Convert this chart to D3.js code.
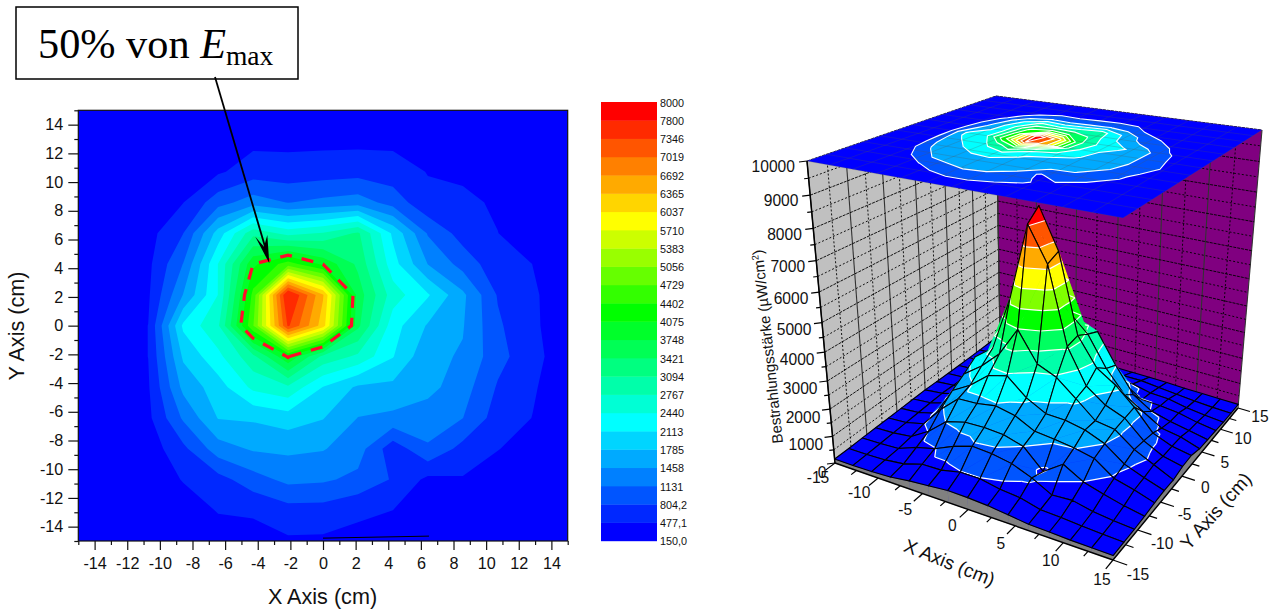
<!DOCTYPE html>
<html><head><meta charset="utf-8">
<script src="https://cdn.jsdelivr.net/npm/d3@7"></script>
<style>html,body{margin:0;padding:0;background:#fff}svg{display:block}text{font-family:"Liberation Sans",Arial,sans-serif;fill:#111}</style>
</head><body><svg id="c" width="1286" height="609"></svg>
<script>
// Irradiance readings (µW/cm²): rows run from y=15 down to y=-15, columns from x=-15 to x=15
const irradiance = [
[150,150,150,160,170,190,200,200,200,200,190,170,160,150,150],
[150,160,170,200,280,400,400,400,400,410,340,270,210,170,150],
[150,170,180,250,430,640,610,650,680,620,465,440,300,220,160],
[150,170,250,470,1000,1300,1120,1220,1300,1000,555,520,450,300,200],
[160,200,360,800,1930,3000,2650,2800,3150,2050,1100,665,480,350,220],
[170,220,400,1140,2450,4000,4560,4000,3350,2250,1450,1007,593,475,250],
[180,250,430,1470,2450,4500,7800,6400,3600,2600,2150,1530,777,500,380],
[200,280,480,2180,2715,4700,7400,6200,3500,2250,1750,1480,860,510,360],
[190,260,480,1840,2350,3000,4050,3000,2700,2130,1535,1428,916,587,263],
[180,240,440,1550,1960,2520,2700,2100,1730,1700,1560,1280,770,510,280],
[170,220,400,1180,1800,1830,1950,1800,1450,1380,1290,1135,648,470,250],
[170,200,290,725,1308,1500,1527,1480,1280,600,1090,693,490,320,200],
[160,180,220,500,680,993,1220,1180,1050,773,400,450,300,220,170],
[150,160,190,280,500,520,680,680,540,477,300,270,220,180,160],
[150,150,160,200,300,360,430,420,380,300,220,200,170,160,150]];
const legendLevels = [150,477.1,804.2,1131,1458,1785,2113,2440,2767,3094,3421,3748,4075,4402,4729,5056,5383,5710,6037,6365,6692,7019,7346,7800,8000];
const legendLabels = ["150,0","477,1","804,2","1131","1458","1785","2113","2440","2767","3094","3421","3748","4075","4402","4729","5056","5383","5710","6037","6365","6692","7019","7346","7800","8000"];
const legendColors = ["#0000ff","#0028ff","#0055ff","#0080ff","#00aaff","#00d5ff","#00ffff","#00ffd5","#00ffaa","#00ff80","#00ff55","#00ff2a","#00ff00","#33ff00","#66ff00","#99ff00","#ccff00","#ffff00","#ffd500","#ffaa00","#ff8000","#ff5500","#ff2a00","#ff0000"];
const surfaceLevels = [150,700,1280,2020,2767,3421,4075,4729,5383,6037,6692,7346];
const surfaceColors = ["#0000ff","#0055ff","#00aaff","#00ffff","#00ffaa","#00ff60","#00ff00","#80ff00","#ffff00","#ffaa00","#ff5500","#ff0000"];
const halfMaxLevel = 4000;
const flatTicks = [-14,-12,-10,-8,-6,-4,-2,0,2,4,6,8,10,12,14];
const flatMinor = [-15,-13,-11,-9,-7,-5,-3,-1,1,3,5,7,9,11,13,15];
const cubeTicks = [-15,-10,-5,0,5,10,15];
const cubeMinor = [-12.5,-7.5,-2.5,2.5,7.5,12.5];
const heightTicks = [0,1000,2000,3000,4000,5000,6000,7000,8000,9000,10000];
const heightMinor = [500,1500,2500,3500,4500,5500,6500,7500,8500,9500];
const wallLines = [-15,-12.5,-10,-7.5,-5,-2.5,0,2.5,5,7.5,10,12.5,15];
const strayLineX = [0,6.5], strayLineY = [-14.8,-14.66];

const svg = d3.select("#c");
const flat = irradiance.flat();
const nodeX = d3.scaleLinear([0,14],[-15,15]);
const nodeY = d3.scaleLinear([0,14],[15,-15]);
const contourGen = d3.contours().size([15,15]).smooth(true);

/* ---------- left: filled contour map ---------- */
const x = d3.scaleLinear([-15,15],[78.3,567.7]);
const y = d3.scaleLinear([-15,15],[541,110.3]);
const ringLine = d3.line().x(p=>x(nodeX(p[0]-.5))).y(p=>y(nodeY(p[1]-.5)));
function mapPath(geom,line){return geom.coordinates.map(poly=>poly.map(r=>line(r)+"Z").join("")).join("");}
const left = svg.append("g");
left.append("rect").attr("x",x(-15)).attr("y",y(15)).attr("width",x(15)-x(-15)).attr("height",y(-15)-y(15)).attr("fill",legendColors[0]);
legendLevels.slice(1,23).forEach((lv,i)=>{
  left.append("path").attr("d",mapPath(contourGen.contour(flat,lv),ringLine)).attr("fill",legendColors[i+1]).attr("fill-rule","evenodd");
});
left.append("path").attr("d",d3.line()(strayLineX.map((v,i)=>[x(v),y(strayLineY[i])]))).attr("stroke","#000").attr("stroke-width",1).attr("fill","none");
left.append("path").attr("d",mapPath(contourGen.contour(flat,halfMaxLevel),ringLine)).attr("fill","none").attr("stroke","#ff0d2a").attr("stroke-width",3.2).attr("stroke-dasharray","12 10");
left.append("rect").attr("x",x(-15)).attr("y",y(15)).attr("width",x(15)-x(-15)).attr("height",y(-15)-y(15)).attr("fill","none").attr("stroke","#111").attr("stroke-width",1.2);
function styleAxis(g){g.select(".domain").remove();g.selectAll("line").attr("stroke","#111").attr("stroke-width",1.2);g.selectAll("text").attr("font-size",16.2).attr("fill","#111").attr("font-family","Liberation Sans");}
const plain=d=>String(d);
left.append("g").attr("transform",`translate(0,${y(-15)})`).call(d3.axisBottom(x).tickValues(flatTicks).tickSize(9).tickPadding(7).tickFormat(plain)).call(styleAxis);
left.append("g").attr("transform",`translate(0,${y(-15)})`).call(d3.axisBottom(x).tickValues(flatMinor).tickSize(4).tickFormat("")).call(styleAxis);
left.append("g").attr("transform",`translate(${x(-15)},0)`).call(d3.axisLeft(y).tickValues(flatTicks).tickSize(10).tickPadding(5).tickFormat(plain)).call(styleAxis);
left.append("g").attr("transform",`translate(${x(-15)},0)`).call(d3.axisLeft(y).tickValues(flatMinor).tickSize(4).tickFormat("")).call(styleAxis);
left.append("text").attr("x",322.5).attr("y",604).attr("text-anchor","middle").attr("font-size",21.6).text("X Axis (cm)");
left.append("text").attr("transform","translate(24,326) rotate(-90)").attr("text-anchor","middle").attr("font-size",21.6).text("Y Axis (cm)");

/* annotation */
const ann = svg.append("g");
ann.append("rect").attr("x",16).attr("y",7).attr("width",282).attr("height",72).attr("fill","#fff").attr("stroke","#000").attr("stroke-width",1.5);
const t = ann.append("text").attr("x",38).attr("y",58).attr("font-size",42.3).style("font-family","'Liberation Serif',serif").style("fill","#000");
t.append("tspan").text("50% von ");
t.append("tspan").attr("font-style","italic").text("E");
t.append("tspan").attr("font-size",27.5).attr("dy",7).text("max");
ann.append("line").attr("x1",215).attr("y1",77).attr("x2",266).attr("y2",250).attr("stroke","#000").attr("stroke-width",1.8);
ann.append("path").attr("d","M269.3,263.3L255.3,236.7L264,246.7L267.3,235Z").attr("fill","#000");

/* ---------- colour scale ---------- */
const lg = svg.append("g");
const ly = d3.scaleLinear([0,24],[540.8,102]);
legendColors.forEach((c,i)=>lg.append("rect").attr("x",601).attr("width",56).attr("y",ly(i+1)).attr("height",ly(i)-ly(i+1)+.4).attr("fill",c));
legendLabels.forEach((s,i)=>lg.append("text").attr("x",660).attr("y",ly(i)+4.6).attr("font-size",10.8).text(s));

/* ---------- right: 3D surface ---------- */
function homography(q){
  const [x0,y0]=q[0],[x1,y1]=q[1],[x2,y2]=q[2],[x3,y3]=q[3];
  const dx1=x1-x2,dx2=x3-x2,sx=x0-x1+x2-x3,dy1=y1-y2,dy2=y3-y2,sy=y0-y1+y2-y3;
  const den=dx1*dy2-dx2*dy1,g=(sx*dy2-dx2*sy)/den,h=(dx1*sy-sx*dy1)/den;
  const a=x1-x0+g*x1,b=x3-x0+h*x3,d=y1-y0+g*y1,e=y3-y0+h*y3;
  return (u,v)=>{const w=g*u+h*v+1;return [(a*u+b*v+x0)/w,(d*u+e*v+y0)/w];};
}
const floorH = homography([[835,463],[1113,560],[1238,408],[1000,338]]);
const topH   = homography([[807,161],[1123,218],[1262,130],[996,96]]);
const uS = d3.scaleLinear([-15,15],[0,1]);
const zS = d3.scaleLinear([0,10000],[0,1]);
function P(px,py,pz){
  const a=floorH(uS(px),uS(py)), b=topH(uS(px),uS(py));
  const s=zS(pz), f=s/(s+1.15*(1-s));
  return [a[0]+(b[0]-a[0])*f, a[1]+(b[1]-a[1])*f];
}
const r3 = svg.append("g");
const ln = d3.line();
function poly(g,pts,fill,extra){return g.append("path").attr("d",ln(pts)+"Z").attr("fill",fill).attr("stroke",extra||"none").attr("stroke-width",.5);}
/* walls */
poly(r3,[P(-15,-15,0),P(-15,15,0),P(-15,15,10000),P(-15,-15,10000)],"#c0c0c0");
poly(r3,[P(-15,15,0),P(15,15,0),P(15,15,10000),P(-15,15,10000)],"#800080");
poly(r3,[P(-15,-15,0),P(15,-15,0),P(15,15,0),P(-15,15,0)],"#0000ff");
function gridLine(a,b,major,dash){
  r3.append("path").attr("d",ln([a,b])).attr("fill","none").attr("stroke",major?"#333":"#000")
    .attr("stroke-width",major?1.1:.9).attr("stroke-dasharray",major?null:dash);
}
wallLines.forEach((v,i)=>{
  gridLine(P(-15,v,0),P(-15,v,10000),i%2==0,"2 2");
  gridLine(P(v,15,0),P(v,15,10000),i%2==0,"2 2");
});
heightTicks.concat(heightMinor).forEach(z=>{
  const d=z%1000==0?"3 1":"2 2";
  gridLine(P(-15,-15,z),P(-15,15,z),false,d);
  gridLine(P(-15,15,z),P(15,15,z),false,d);
});
r3.append("path").attr("d",ln([P(-15,15,0),P(-15,15,10000)])).attr("stroke","#333").attr("stroke-width",1);

/* surface helpers */
function node(c,r){return [nodeX(c),nodeY(r),irradiance[r][c]];}
function clipZ(pts,L,above){
  const out=[];
  pts.forEach((a,i)=>{
    const b=pts[(i+1)%pts.length];
    const ia=above?a[2]>=L:a[2]<=L, ib=above?b[2]>=L:b[2]<=L;
    if(ia) out.push(a);
    if(ia!==ib){const k=(L-a[2])/(b[2]-a[2]);out.push([a[0]+(b[0]-a[0])*k,a[1]+(b[1]-a[1])*k,L]);}
  });
  return out;
}
function crossing(tri,L){
  const out=[];
  tri.forEach((a,i)=>{const b=tri[(i+1)%3];
    if((a[2]<L)!==(b[2]<L)){const k=(L-a[2])/(b[2]-a[2]);out.push([a[0]+(b[0]-a[0])*k,a[1]+(b[1]-a[1])*k,L]);}
  });
  return out;
}
const proj=p=>P(p[0],p[1],p[2]);

/* side skirts */
const skirt = r3.append("g");
d3.range(14).forEach(k=>{
  const a=node(k,14),b=node(k+1,14);
  poly(skirt,[proj(a),proj(b),P(b[0],-15,0),P(a[0],-15,0)],"#808080","#808080");
  const c=node(14,k),d=node(14,k+1);
  poly(skirt,[proj(c),proj(d),P(15,d[1],0),P(15,c[1],0)],"#808080","#808080");
});

/* top plane, with projected contours */
const topPlane = r3.append("g");
const topLine = d3.line().x(p=>P(nodeX(p[0]-.5),nodeY(p[1]-.5),10000)[0]).y(p=>P(nodeX(p[0]-.5),nodeY(p[1]-.5),10000)[1]);
poly(topPlane,[P(-15,-15,10000),P(15,-15,10000),P(15,15,10000),P(-15,15,10000)],"#0000ff");
surfaceLevels.slice(1).forEach((lv,i)=>{
  topPlane.append("path").attr("d",mapPath(contourGen.contour(flat,lv),topLine)).attr("fill",surfaceColors[i+1]).attr("fill-rule","evenodd");
});
wallLines.forEach(v=>{
  topPlane.append("path").attr("d",ln([P(v,-15,10000),P(v,15,10000)])).attr("stroke","#555").attr("stroke-opacity",.3).attr("stroke-width",.8);
  topPlane.append("path").attr("d",ln([P(-15,v,10000),P(15,v,10000)])).attr("stroke","#555").attr("stroke-opacity",.3).attr("stroke-width",.8);
});
surfaceLevels.slice(1).forEach(lv=>{
  topPlane.append("path").attr("d",mapPath(contourGen.contour(flat,lv),topLine)).attr("fill","none").attr("stroke","#fff").attr("stroke-width",1.1);
});

/* mesh, painted back to front */
const mesh = r3.append("g");
d3.range(14).forEach(r=>d3.range(14).forEach(c=>{
  const A=node(c,r),B=node(c+1,r),C=node(c+1,r+1),D=node(c,r+1);
  [[A,B,D],[B,C,D]].forEach(tri=>{
    surfaceLevels.forEach((lo,i)=>{
      const hi=surfaceLevels[i+1];
      let pts=i==0?tri:clipZ(tri,lo,true);
      if(hi!==undefined&&pts.length) pts=clipZ(pts,hi,false);
      if(pts.length>2) poly(mesh,pts.map(proj),surfaceColors[i],surfaceColors[i]);
    });
  });
  [[A,B,D],[B,C,D]].forEach(tri=>{
    surfaceLevels.slice(1).forEach(lv=>{
      const seg=crossing(tri,lv);
      if(seg.length==2) mesh.append("path").attr("d",ln(seg.map(proj))).attr("stroke","#fff").attr("stroke-width",1.2).attr("fill","none");
    });
  });
  mesh.append("path").attr("d",ln([A,B,C,D].map(proj))+"Z").attr("fill","none").attr("stroke","#000").attr("stroke-width",1.1).attr("stroke-linejoin","round");
}));

/* axes */
const ax = svg.append("g");
function edge(a,b,w){ax.append("path").attr("d",ln([a,b])).attr("stroke","#000").attr("stroke-width",w||1.4).attr("fill","none");}
edge(P(-15,-15,0),P(15,-15,0));edge(P(15,-15,0),P(15,15,0));edge(P(-15,-15,0),P(-15,-15,10000),1.5);
const label=(p,s,anchor)=>ax.append("text").attr("x",p[0]).attr("y",p[1]).attr("text-anchor",anchor||"middle").attr("font-size",15.6).text(s);
cubeTicks.forEach(v=>{edge(P(v,-15,0),P(v,-16.4,0),1.2);edge(P(15,v,0),P(16.4,v,0),1.2);});
cubeMinor.forEach(v=>{edge(P(v,-15,0),P(v,-15.8,0),1.2);edge(P(15,v,0),P(15.8,v,0),1.2);});
const xOff=d3.scaleLinear([-15,-10,15],[-17,-19,-11]), xOffY=d3.scaleLinear([-15,15],[19.5,24.5]);
const yOff=d3.scaleLinear([-15,15],[25,22]), yOffY=d3.scaleLinear([-15,15],[20,14]);
cubeTicks.forEach(v=>{
  const a=P(v,-15,0);label([a[0]+xOff(v),a[1]+xOffY(v)],String(v));
  const b=P(15,v,0);label([b[0]+yOff(v),b[1]+yOffY(v)],String(v));
});
heightTicks.forEach(z=>{
  const a=P(-15,-15,z);edge(a,[a[0]-8,a[1]+1],1.2);
  label([a[0]-(z==0?8.5:9+z/3300),a[1]+10.5+(10000-z)/2500],String(z),"end");
});
heightMinor.forEach(z=>{const a=P(-15,-15,z);edge(a,[a[0]-4.5,a[1]+.5],1.2);});
ax.append("text").attr("transform","translate(949,564) rotate(21.8)").attr("text-anchor","middle").attr("dominant-baseline","middle").attr("font-size",19).text("X Axis (cm)");
ax.append("text").attr("transform","translate(1217,512) rotate(-48)").attr("text-anchor","middle").attr("dominant-baseline","middle").attr("font-size",19).text("Y Axis (cm)");
const zt=ax.append("text").attr("transform","translate(783,443) rotate(-96)").attr("font-size",15);
zt.append("tspan").text("Bestrahlungsstärke (µW/cm");
zt.append("tspan").attr("font-size",9.5).attr("dy",-5).text("2");
zt.append("tspan").attr("dy",5).text(")");
</script></body></html>
